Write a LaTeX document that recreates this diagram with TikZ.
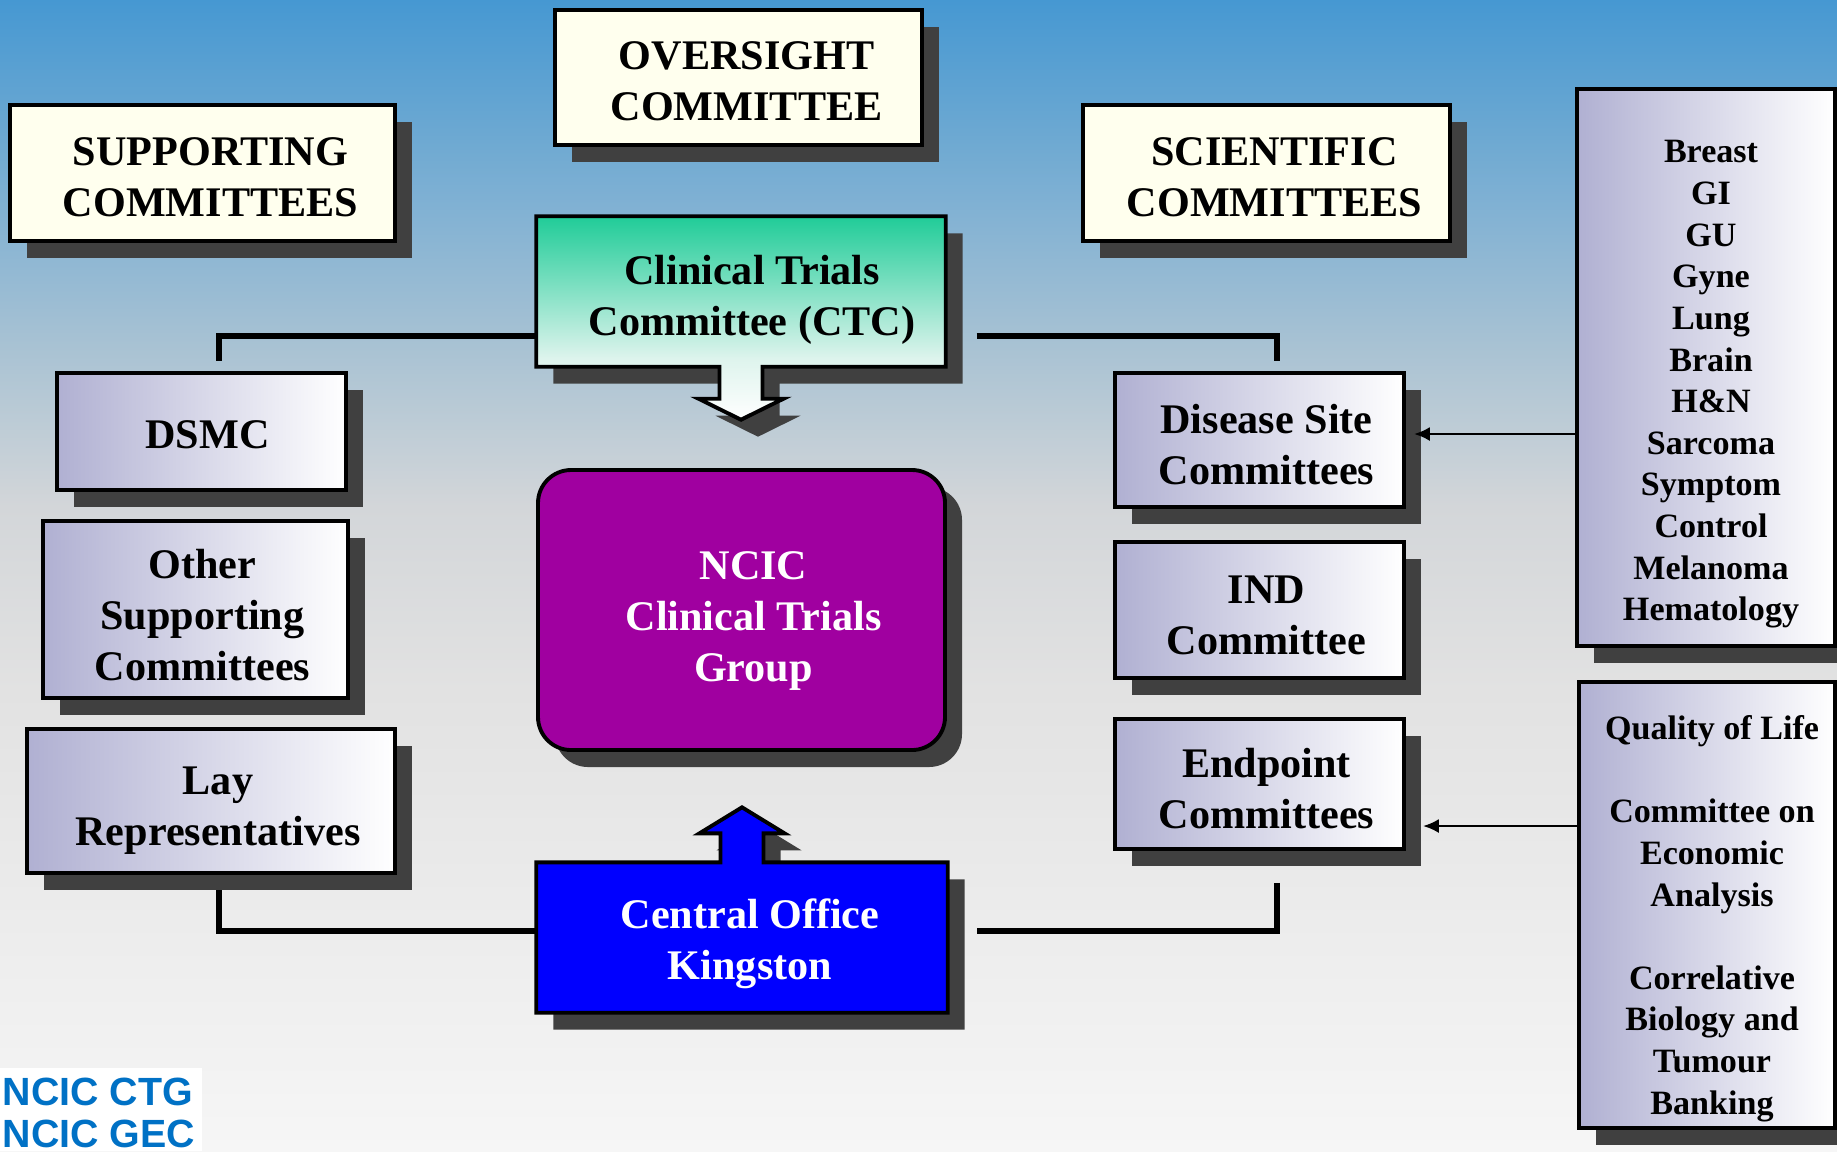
\documentclass[tikz,border=0pt]{standalone}
\usepackage{fontspec}
\setmainfont{Liberation Serif}
\newfontfamily\logofont{Liberation Sans}
\usetikzlibrary{arrows.meta,positioning,shadows}
\definecolor{bgtop}{RGB}{70,152,210}
\definecolor{bgpale}{RGB}{168,194,211}
\definecolor{bggray}{RGB}{211,214,217}
\definecolor{bglow}{RGB}{226,226,226}
\definecolor{bgbot}{RGB}{246,246,246}
\definecolor{creamfill}{RGB}{255,255,238}
\definecolor{lavender}{RGB}{176,176,210}
\definecolor{shadowgrey}{RGB}{64,64,64}
\definecolor{ncicpurple}{RGB}{160,0,160}
\definecolor{cobluefill}{RGB}{0,0,255}
\definecolor{ctctop}{RGB}{32,204,152}
\definecolor{ctclight}{RGB}{222,244,237}
\definecolor{logoblue}{RGB}{0,113,197}
\pgfdeclareverticalshading{pagebg}{100bp}{color(0bp)=(bgbot); color(25bp)=(bgbot); color(45bp)=(bglow); color(53bp)=(bggray); color(60bp)=(bgpale); color(75bp)=(bgtop); color(100bp)=(bgtop)}
\pgfdeclareverticalshading{ctcfade}{100bp}{color(0bp)=(white); color(25bp)=(white); color(40bp)=(ctclight); color(75bp)=(ctctop); color(100bp)=(ctctop)}
\pgfdeclarelayer{bg}
\pgfdeclarelayer{links}
\pgfsetlayers{bg,links,main}
% text moved right by #1 and down by #2 inside its box
\newcommand\nudged[3]{\hspace*{#1}\hspace*{#1}\raisebox{-#2}[\height][\depth]{\begin{tabular}{@{}c@{}}#3\end{tabular}}}
\tikzset{
  boxshadow/.style={drop shadow={shadow xshift=1.7mm,shadow yshift=-1.7mm,fill=shadowgrey,opacity=1}},
  bigtext/.style={inner sep=0pt,font=\fontsize{12}{14.5}\selectfont\bfseries},
  headbox/.style={bigtext,draw=black,line width=1.1pt,fill=creamfill,boxshadow},
  sidebox/.style={bigtext,draw=black,line width=1.1pt,left color=lavender,right color=white,boxshadow},
  listbox/.style={sidebox,font=\fontsize{9.7}{11.85}\selectfont\bfseries},
  groupbox/.style={bigtext,draw=black,line width=1.1pt,fill=ncicpurple,rounded corners=3.3mm,text=white,boxshadow},
  link/.style={line width=1.7pt},
  feedarrow/.style={line width=0.8pt,-{Latex[length=4.5pt,width=4pt]}},
  ctcshape/.style={draw=black,line width=1.1pt,shading=ctcfade,boxshadow},
  coshape/.style={draw=black,line width=1.1pt,fill=cobluefill,boxshadow}
}
\begin{document}
\begin{tikzpicture}
\useasboundingbox (0,0) rectangle (18.37,-11.51);
\begin{pgfonlayer}{bg}
\shade[shading=pagebg] (0,0) rectangle (18.37,-11.51);
\fill[white] (0,-10.68) rectangle (2.02,-11.51);
\end{pgfonlayer}
%
\node (ovs) [headbox,minimum width=3.67cm,minimum height=1.35cm] at (7.385,-0.775) {\nudged{0.08cm}{0.07cm}{OVERSIGHT\\COMMITTEE}};
\node (supp) [headbox,minimum width=3.85cm,minimum height=1.36cm] at (2.025,-1.73) {\nudged{0.08cm}{0.075cm}{SUPPORTING\\COMMITTEES}};
\node (sci) [headbox,minimum width=3.67cm,minimum height=1.36cm] at (12.665,-1.73) {\nudged{0.08cm}{0.075cm}{SCIENTIFIC\\COMMITTEES}};
\node (ctc) [bigtext,minimum width=4.08cm,minimum height=1.49cm] at (7.41,-2.915) {\nudged{0.11cm}{0.08cm}{Clinical Trials\\Committee (CTC)}};
\node (ncic) [groupbox,minimum width=4.07cm,minimum height=2.8cm] at (7.415,-6.10) {\nudged{0.12cm}{0.1cm}{NCIC\\Clinical Trials\\Group}};
\node (co) [bigtext,text=white,minimum width=4.1cm,minimum height=1.49cm] at (7.42,-9.375) {\nudged{0.08cm}{0.06cm}{Central Office\\Kingston}};
%
\node (dsmc) [sidebox,minimum width=2.89cm,minimum height=1.17cm] at (2.015,-4.315) {\nudged{0.06cm}{0.07cm}{DSMC}};
\node (osc) [sidebox,minimum width=3.05cm,minimum height=1.77cm] at (1.955,-6.095) {\nudged{0.07cm}{0.095cm}{Other\\Supporting\\Committees}};
\node (lay) [sidebox,minimum width=3.68cm,minimum height=1.44cm] at (2.11,-8.01) {\nudged{0.07cm}{0.085cm}{Lay\\Representatives}};
\node (dsc) [sidebox,minimum width=2.89cm,minimum height=1.34cm] at (12.595,-4.40) {\nudged{0.07cm}{0.085cm}{Disease Site\\Committees}};
\node (ind) [sidebox,minimum width=2.89cm,minimum height=1.36cm] at (12.595,-6.10) {\nudged{0.07cm}{0.085cm}{IND\\Committee}};
\node (epc) [sidebox,minimum width=2.89cm,minimum height=1.30cm] at (12.595,-7.84) {\nudged{0.07cm}{0.085cm}{Endpoint\\Committees}};
%
\node (sites) [listbox,minimum width=2.58cm,minimum height=5.57cm] at (17.06,-3.675) {\nudged{0.05cm}{0.16cm}{Breast\\GI\\GU\\Gyne\\Lung\\Brain\\H\&N\\Sarcoma\\Symptom\\Control\\Melanoma\\Hematology}};
\node (qol) [listbox,minimum width=2.56cm,minimum height=4.46cm] at (17.07,-9.05) {\nudged{0.05cm}{0.135cm}{Quality of Life\\[11.85pt]Committee on\\Economic\\Analysis\\[11.85pt]Correlative\\Biology and\\Tumour\\Banking}};
%
\node (logo) [anchor=north west,align=left,inner sep=0pt,text=logoblue,font=\logofont\fontsize{11.2}{12}\selectfont\bfseries] at (0.02,-10.77) {NCIC CTG\\NCIC GEC};
%
\draw[feedarrow] ([yshift=0.6mm]dsc.east -| sites.west) -- ([xshift=0.8mm,yshift=0.6mm]dsc.east);
\draw[feedarrow] ([yshift=-4.2mm]epc.east -| qol.west) -- ([xshift=1.7mm,yshift=-4.2mm]epc.east);
%
\begin{pgfonlayer}{links}
\draw[link,shorten >=1mm] ([yshift=-4.45mm]ctc.west) -| ([xshift=1.75mm]dsmc.north);
\draw[link,shorten <=3.1mm,shorten >=1mm] ([yshift=-4.45mm]ctc.east) -| ([xshift=1.75mm]dsc.north);
\draw[link] ([xshift=0.8mm]lay.south) |- ([yshift=0.65mm]co.west);
\draw[link,shorten <=3.2mm,shorten >=2.9mm] ([xshift=1.75mm]epc.south) |- ([yshift=0.65mm]co.east);
% box and arrow drawn as one outline
\shadedraw[ctcshape] (ctc.north west) -- (ctc.north east) -- (ctc.south east) -- ([xshift=2.15mm]ctc.south) -- ++(0,-3.2mm) -- ++(2.1mm,0) -- ++(-4.25mm,-2.1mm) -- ++(-4.25mm,2.1mm) -- ++(2.1mm,0) -- ++(0,3.2mm) -- (ctc.south west) -- cycle;
\filldraw[coshape] (co.south west) -- (co.north west) -- ([xshift=-2.15mm]co.north) -- ++(0,2.9mm) -- ++(-2.1mm,0) -- ++(4.25mm,2.6mm) -- ++(4.25mm,-2.6mm) -- ++(-2.1mm,0) -- ++(0,-2.9mm) -- (co.north east) -- (co.south east) -- cycle;
\end{pgfonlayer}
\end{tikzpicture}
\end{document}
